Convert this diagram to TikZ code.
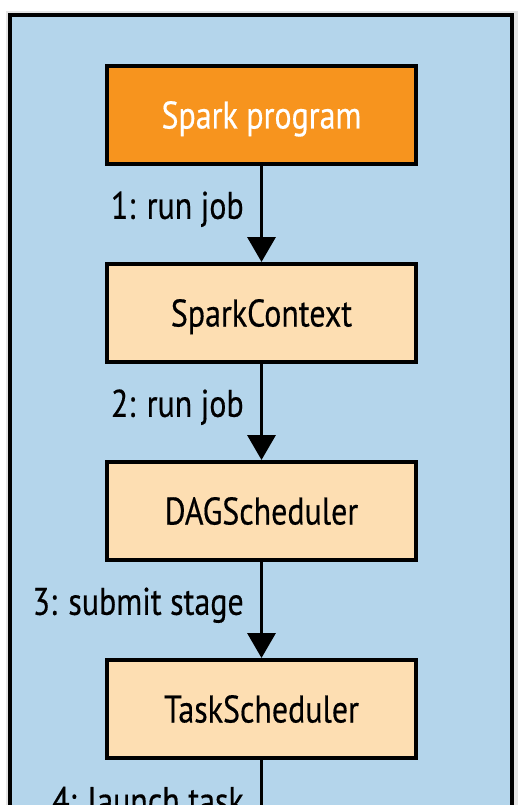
\documentclass[tikz,border=0pt]{standalone}
\usepackage{fontspec}
\setmainfont{PT Sans}[FakeStretch=0.83,FakeBold=0.4]
\usetikzlibrary{arrows.meta}
\definecolor{bgblue}{RGB}{180,213,235}
\definecolor{sorange}{RGB}{247,148,30}
\definecolor{lorange}{RGB}{253,222,178}
\tikzset{
  box/.style={draw=black, line width=4pt, minimum width=309pt, minimum height=98pt,
    inner sep=0pt, text height=27pt, text depth=0pt, font=\fontsize{38.5}{40}\selectfont},
  mainbox/.style={box, fill=sorange, text=white},
  subbox/.style={box, fill=lorange, text=black},
  arr/.style={line width=3.5pt, -{Triangle[width=28pt,length=25pt]}},
  lab/.style={anchor=base east, inner sep=0pt, xshift=-16pt, font=\fontsize{38.5}{40}\selectfont}
}
\begin{document}
\begin{tikzpicture}[x=1pt,y=-1pt]
\useasboundingbox (0,0) rectangle (523,805);
\fill[white] (0,0) rectangle (523,805);
\begin{scope}
\clip (0,0) rectangle (523,805);
\fill[black!10] (6,11) rectangle (518,840);
\draw[line width=4pt, fill=bgblue] (10,15) rectangle (512,840);
\node[mainbox] (sp) at (261.5,115) {Spark program};
\node[subbox] (sc) at (261.5,313) {SparkContext};
\node[subbox] (dag) at (261.5,511) {DAGScheduler};
\node[subbox] (ts) at (261.5,709) {TaskScheduler};
\coordinate (end) at (261.5,860);
\draw[arr] (sp) -- node[lab, pos=0.55] {1: run job} (sc);
\draw[arr] (sc) -- node[lab, pos=0.55] {2: run job} (dag);
\draw[arr] (dag) -- node[lab, pos=0.55] {3: submit stage} (ts);
\draw[line width=3.5pt] (ts) -- node[lab, pos=0.5, yshift=-4pt] {4: launch task} (end);
\end{scope}
\end{tikzpicture}
\end{document}
